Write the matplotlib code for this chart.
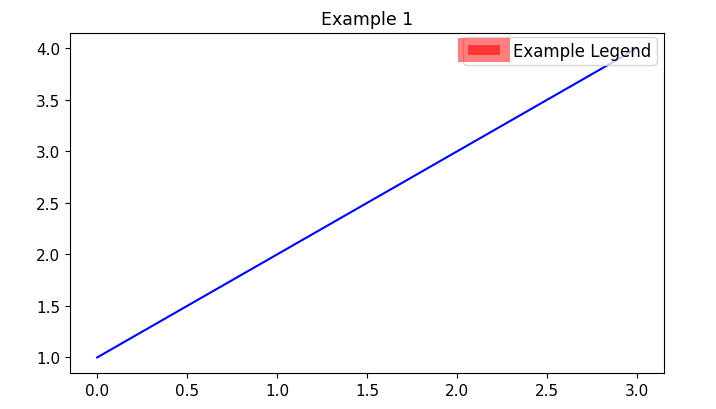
import matplotlib.pyplot as plt
from matplotlib.patches import Rectangle, Patch
from matplotlib.legend_handler import HandlerBase

x = [0, 1, 2, 3]
y = [1, 2, 3, 4]
title = "Example 1"
legend_label = "Example Legend"


# legend handle: red bar sitting on a bigger, lighter red box
class BoxHandler(HandlerBase):
    def create_artists(self, legend, orig_handle, xdescent, ydescent,
                       width, height, fontsize, trans):
        px, py = 0.6 * fontsize, 0.42 * fontsize
        outer = Rectangle((-xdescent - px, -ydescent - py), width + 2 * px, height + 2 * py,
                          facecolor='red', alpha=0.5, linewidth=0, transform=trans)
        inner = Rectangle((-xdescent, -ydescent), width, height,
                          facecolor='red', alpha=0.57, linewidth=0, transform=trans)
        return [outer, inner]


fig, ax = plt.subplots(figsize=(7.16, 4.10), dpi=100)
fig.subplots_adjust(left=0.098, right=0.928, top=0.918, bottom=0.088)
ax.plot(x, y, color='blue')
ax.set_title(title, fontsize=12.5)
ax.tick_params(labelsize=11)

ax.legend([Patch()], [legend_label], handler_map={Patch: BoxHandler()},
          loc='upper right', bbox_to_anchor=(0.994, 1.0), fontsize=12,
          handlelength=1.92, handleheight=0.54, handletextpad=0.78,
          borderpad=0.3, borderaxespad=0.25)

plt.savefig("out.png", dpi=100)
